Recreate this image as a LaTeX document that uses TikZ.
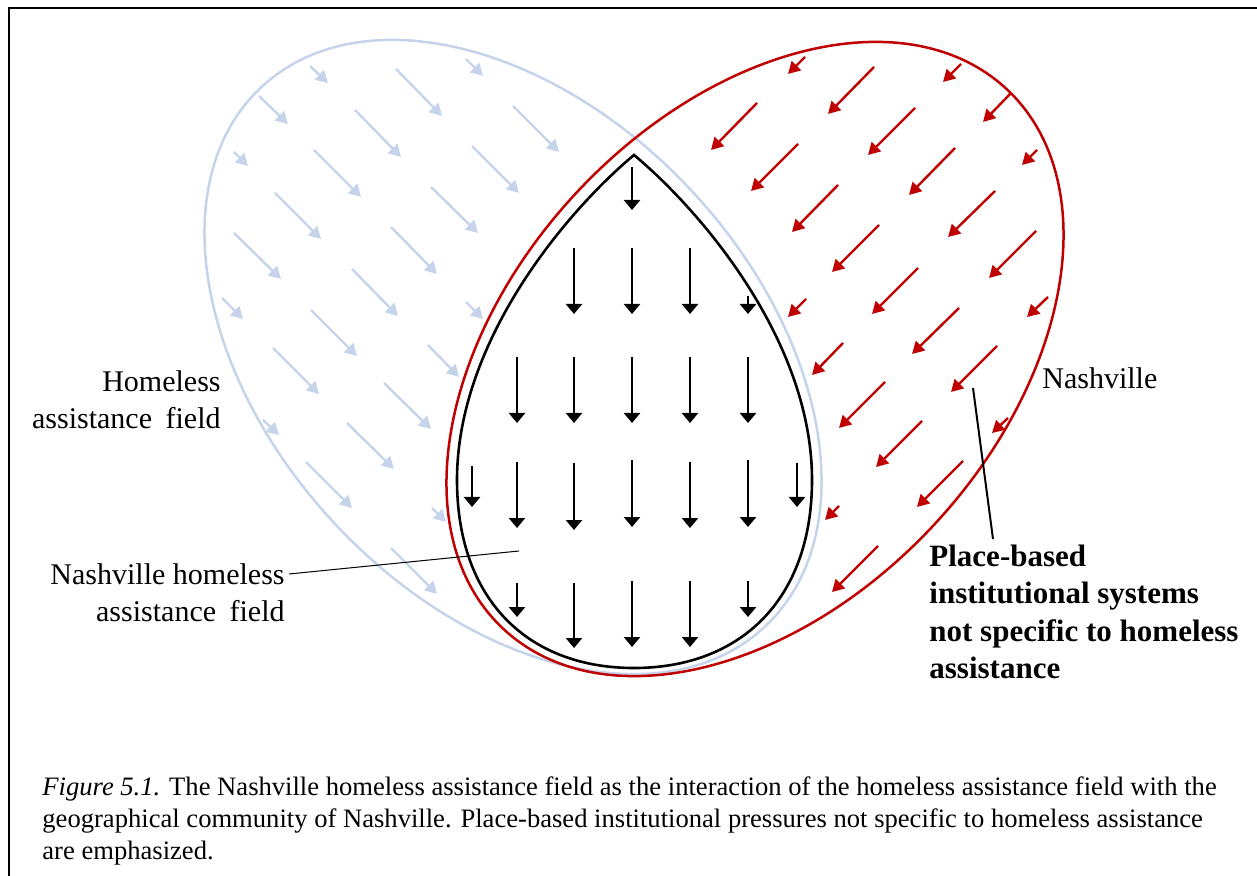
\documentclass[tikz,border=0pt]{standalone}
\usepackage{fontspec}
\setmainfont{Liberation Serif}
\usetikzlibrary{arrows.meta}
\definecolor{fieldblue}{RGB}{197,212,234}
\definecolor{cityred}{RGB}{192,0,0}

\begin{document}
\begin{tikzpicture}[x=0.5pt,y=-0.5pt,
  frameline/.style={draw=black,line width=1.3pt},
  fieldline/.style={draw=fieldblue,line width=1.25pt},
  cityline/.style={draw=cityred,line width=1.25pt},
  dropline/.style={draw=black,line width=1.3pt},
  fieldarrow/.style={draw=fieldblue,line width=1.2pt,-{Triangle[length=6pt,width=6.5pt]}},
  cityarrow/.style={draw=cityred,line width=1.2pt,-{Triangle[length=6pt,width=6.5pt]}},
  droparrow/.style={draw=black,line width=1.4pt,-{Triangle[length=5pt,width=8pt]}},
  fieldtext/.style={inner sep=0pt,font=\fontsize{15}{18.5}\selectfont},
  boldtext/.style={inner sep=0pt,font=\fontsize{15.5}{18.67}\selectfont\bfseries},
  captext/.style={inner sep=0pt,font=\fontsize{13.3}{16}\selectfont},
  leader/.style={draw=black,line width=0.5pt},
  boldleader/.style={draw=black,line width=1pt}]

\useasboundingbox (0,0) rectangle (1257,876);

% frame
\draw[frameline] (9,876) -- (9,8) -- (1257,8);

% homeless assistance field: outline and pressures
\draw[fieldline,shift={(513,357)},rotate=-47] (0,0) ellipse [x radius=369,y radius=244];
\foreach \xa/\ya/\xb/\yb in {
  310/66/328/83, 396/69/442/116, 466/59/483/76, 259/96/288/124,
  355/110/401/157, 513/106/559/152, 234/152/248/166, 314/150/361/197,
  472/146/519/193, 275/193/321/239, 431/187/478/233, 234/233/281/279,
  391/227/437/274, 222/298/243/319, 352/269/398/316, 466/302/483/319,
  311/310/357/356, 273/348/319/394, 428/345/459/377, 384/383/431/429,
  263/420/279/435, 347/423/394/469, 306/462/352/508, 432/508/446/522,
  391/548/437/594}
  \draw[fieldarrow] (\xa,\ya) -- (\xb,\yb);

% Nashville: outline and place-based pressures
\draw[cityline,shift={(755,359)},rotate=47] (0,0) ellipse [x radius=369,y radius=244];
\foreach \xa/\ya/\xb/\yb in {
  805/57/788/74, 874/67/828/114, 961/64/943/82, 757/103/711/150,
  915/108/868/155, 1011/93/983/122, 798/144/751/191, 1037/150/1022/165,
  955/148/909/195, 838/185/792/232, 995/191/948/237, 879/225/832/272,
  1036/231/989/278, 918/268/872/314, 806/299/788/317, 1048/297/1027/317,
  959/308/912/354, 843/343/812/375, 997/346/951/392, 885/382/839/428,
  1008/418/992/433, 922/421/876/467, 839/506/825/520, 963/461/917/507,
  878/546/832/592}
  \draw[cityarrow] (\xa,\ya) -- (\xb,\yb);

% Nashville homeless assistance field
\draw[dropline] (634,155) .. controls (700,210) and (812,340) .. (812,480)
  .. controls (812,600) and (740,668) .. (634,668)
  .. controls (528,668) and (457,600) .. (457,480)
  .. controls (457,340) and (568,210) .. (634,155) -- cycle;
\foreach \xa/\ya/\xb/\yb in {
  632/167/632/210,
  574/248/574/314, 632/248/632/314, 690/248/690/314, 748/296/748/314,
  517/357/517/423, 574/357/574/423, 632/357/632/423, 690/357/690/423, 748/357/748/423,
  472/466/472/507, 517/462/517/528, 574/463/574/530, 632/460/632/527,
  690/462/690/528, 748/460/748/527, 797/463/797/507,
  517/583/517/617, 574/583/574/648, 632/581/632/647, 690/581/690/647, 748/581/748/617}
  \draw[droparrow] (\xa,\ya) -- (\xb,\yb);

% labels
\node[fieldtext,anchor=north east,align=right] (hafield) at (221,365)
  {\strut Homeless\\assistance\hspace{3pt} field};
\node[fieldtext,anchor=north east,align=right] (nhafield) at (285,558)
  {\strut Nashville homeless\\assistance\hspace{3pt} field};
\node[fieldtext,anchor=base west] (nashville) at (1042,389) {Nashville};
\node[boldtext,anchor=north west,align=left] (placebased) at (929,540)
  {\strut Place-based\\institutional systems\\not specific to homeless\\assistance};

% leaders
\coordinate (nhaf-end) at (289,574);
\coordinate (nhaf-tip) at (519,551);
\draw[leader] (nhaf-end) -- (nhaf-tip);
\coordinate (pb-tip) at (973,388);
\coordinate (pb-end) at (993,539);
\draw[boldleader] (pb-end) -- (pb-tip);

% caption
\node[captext,anchor=north west,align=left] (caption) at (42,773)
  {\strut\textit{Figure 5.1.} The Nashville homeless assistance field as the interaction of the homeless assistance field with the\\
   geographical community of Nashville. Place-based institutional pressures not specific to homeless assistance\\
   are emphasized.};
\end{tikzpicture}
\end{document}
